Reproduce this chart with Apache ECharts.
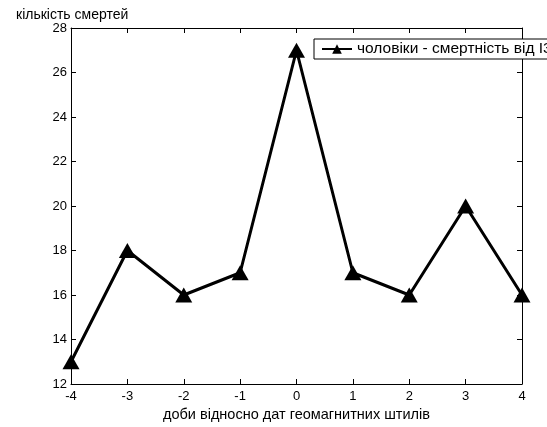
<!DOCTYPE html>
<html>
<head>
<meta charset="utf-8">
<script src="https://cdn.jsdelivr.net/npm/echarts@6/dist/echarts.min.js"></script>
<style>
  html, body { margin: 0; padding: 0; background: #fff; }
  #main { width: 547px; height: 427px; }
</style>
</head>
<body>
<div id="main"></div>
<script>
// days relative to geomagnetic calm dates
const days = [-4, -3, -2, -1, 0, 1, 2, 3, 4];
// men - deaths from IHD
const deaths = [13, 18, 16, 17, 27, 17, 16, 20, 16];
const seriesName = 'чоловіки - смертність від І3';

const chart = echarts.init(document.getElementById('main'));

const font = 'Liberation Sans, Arial, sans-serif';
const frameAxis = {
  axisLine: { show: true, onZero: false, lineStyle: { color: '#000', width: 1 } },
  axisTick: { show: true, inside: true, length: 5, lineStyle: { color: '#000' } },
  splitLine: { show: false }
};

chart.setOption({
  animation: false,
  title: {
    text: 'кількість смертей',
    left: 11, top: 3,
    textStyle: { fontFamily: font, fontSize: 14, fontWeight: 'normal', color: '#000' }
  },
  legend: {
    left: 314, top: 39,
    data: [seriesName],
    backgroundColor: '#fff',
    borderColor: '#000', borderWidth: 1, borderRadius: 0,
    padding: [2, 6, 2, 7],
    itemWidth: 30, itemHeight: 12,
    textStyle: { fontFamily: font, fontSize: 15.5, color: '#000' }
  },
  grid: { left: 71, right: 25, top: 28, bottom: 43, outerBoundsMode: 'none', containLabel: false },
  xAxis: [
    Object.assign({
      type: 'value', min: -4, max: 4, interval: 1,
      name: 'доби відносно дат геомагнитних штилів',
      nameLocation: 'middle', nameGap: 23,
      nameTextStyle: { fontFamily: font, fontSize: 14.5, color: '#000' },
      axisLabel: { fontFamily: font, fontSize: 13, color: '#000', margin: 6 }
    }, frameAxis),
    Object.assign({
      type: 'value', position: 'top', min: -4, max: 4, interval: 1,
      axisLabel: { show: false }
    }, frameAxis)
  ],
  yAxis: [
    Object.assign({
      type: 'value', min: 12, max: 28, interval: 2,
      axisLabel: { fontFamily: font, fontSize: 13, color: '#000', margin: 4 }
    }, frameAxis),
    Object.assign({
      type: 'value', position: 'right', min: 12, max: 28, interval: 2,
      axisLabel: { show: false }
    }, frameAxis)
  ],
  series: [{
    name: seriesName,
    type: 'line',
    data: days.map((d, i) => [d, deaths[i]]),
    lineStyle: { color: '#000', width: 3 },
    itemStyle: { color: '#000' },
    symbol: 'triangle',
    symbolSize: [17, 15],
    showAllSymbol: true
  }]
});
</script>
</body>
</html>
